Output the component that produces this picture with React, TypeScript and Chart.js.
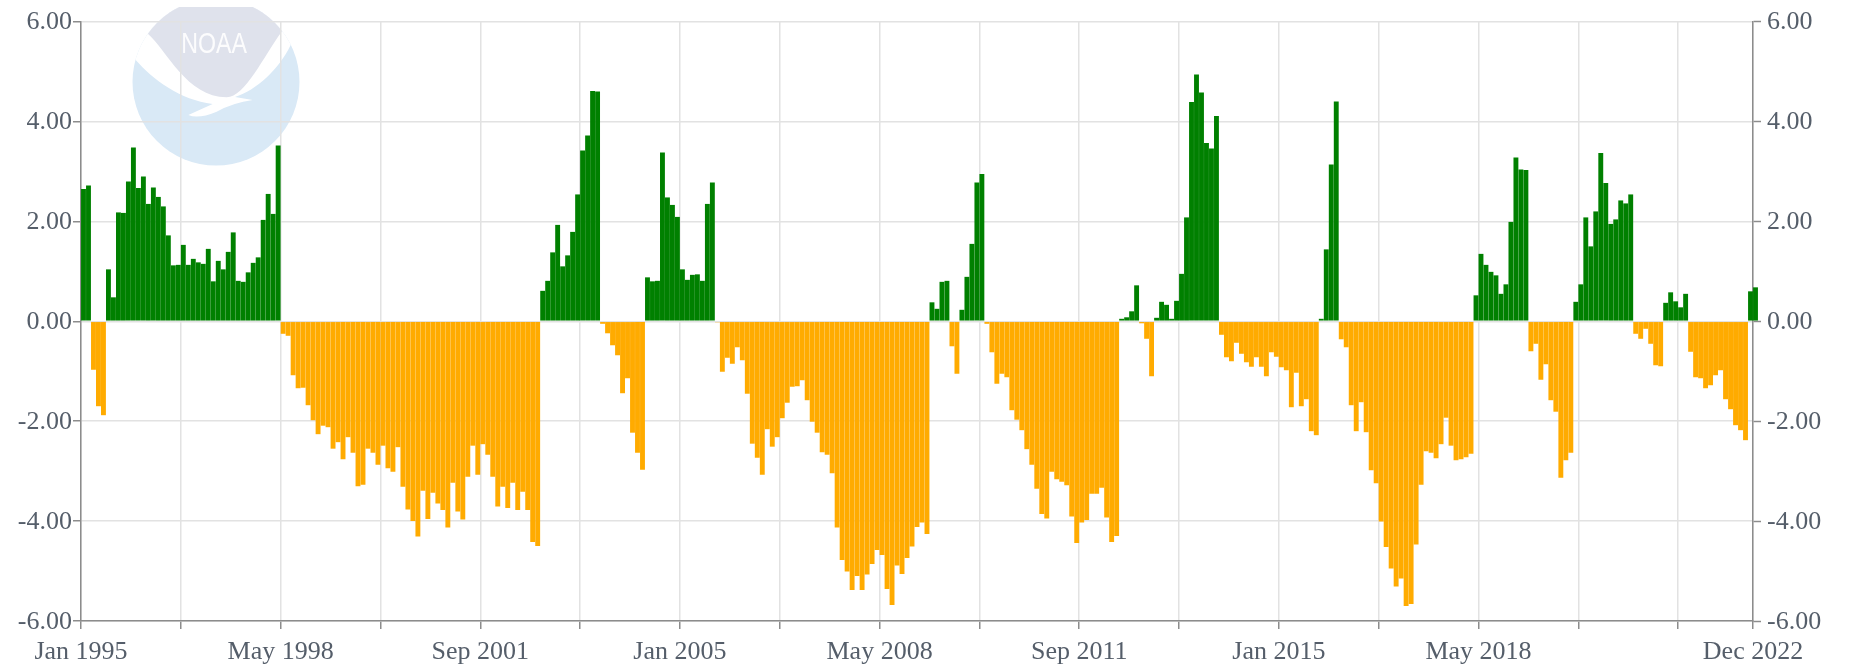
import React, { useEffect, useRef } from "react";
import { Chart, registerables } from "chart.js";

Chart.register(...registerables);

// Monthly values, Jan 1995 – Dec 2022
const monthlyValues: number[] = [
  2.65, 2.72, -0.97, -1.7, -1.88, 1.04, 0.48, 2.18, 2.17, 2.8, 3.48, 2.67,
  2.9, 2.35, 2.68, 2.49, 2.3, 1.72, 1.12, 1.13, 1.53, 1.13, 1.25, 1.18,
  1.15, 1.45, 0.8, 1.21, 1.04, 1.39, 1.78, 0.81, 0.79, 0.98, 1.17, 1.28,
  2.03, 2.55, 2.15, 3.52, -0.25, -0.29, -1.08, -1.34, -1.33, -1.68, -1.98, -2.26,
  -2.09, -2.12, -2.55, -2.42, -2.76, -2.32, -2.63, -3.3, -3.27, -2.55, -2.63, -2.87,
  -2.49, -2.94, -3.01, -2.52, -3.31, -3.77, -4.0, -4.31, -3.39, -3.96, -3.43, -3.65,
  -3.78, -4.13, -3.23, -3.81, -3.97, -3.11, -2.49, -3.07, -2.46, -2.67, -3.11, -3.71,
  -3.31, -3.74, -3.23, -3.78, -3.41, -3.78, -4.42, -4.5, 0.61, 0.81, 1.38, 1.93,
  1.1, 1.32, 1.79, 2.54, 3.42, 3.72, 4.61, 4.6, -0.05, -0.24, -0.48, -0.68,
  -1.44, -1.14, -2.23, -2.63, -2.97, 0.88, 0.8, 0.81, 3.38, 2.48, 2.33, 2.09,
  1.04, 0.83, 0.93, 0.94, 0.81, 2.35, 2.78, -0.02, -1.01, -0.73, -0.85, -0.52,
  -0.78, -1.45, -2.45, -2.73, -3.07, -2.16, -2.51, -2.32, -1.94, -1.63, -1.31, -1.3,
  -1.18, -1.58, -2.01, -2.23, -2.62, -2.67, -3.04, -4.13, -4.78, -5.01, -5.38, -5.1,
  -5.38, -5.07, -4.86, -4.58, -4.68, -5.36, -5.68, -4.89, -5.06, -4.74, -4.51, -4.12,
  -4.03, -4.26, 0.38, 0.25, 0.79, 0.81, -0.5, -1.05, 0.23, 0.89, 1.55, 2.78,
  2.95, -0.05, -0.62, -1.25, -1.05, -1.12, -1.78, -1.97, -2.18, -2.56, -2.87, -3.35,
  -3.86, -3.95, -3.01, -3.16, -3.21, -3.28, -3.91, -4.44, -4.03, -3.98, -3.45, -3.45,
  -3.33, -3.93, -4.42, -4.3, 0.05, 0.08, 0.2, 0.72, -0.04, -0.35, -1.1, 0.07,
  0.39, 0.33, 0.05, 0.41, 0.95, 2.08, 4.39, 4.94, 4.58, 3.57, 3.46, 4.11,
  -0.27, -0.72, -0.8, -0.43, -0.65, -0.82, -0.91, -0.72, -0.91, -1.1, -0.62, -0.71,
  -0.92, -0.98, -1.72, -1.03, -1.7, -1.56, -2.2, -2.28, 0.05, 1.44, 3.14, 4.4,
  -0.36, -0.52, -1.68, -2.2, -1.62, -2.22, -2.98, -3.24, -4.01, -4.52, -4.95, -5.31,
  -5.15, -5.7, -5.66, -4.47, -3.27, -2.6, -2.63, -2.74, -2.46, -1.93, -2.49, -2.78,
  -2.76, -2.72, -2.65, 0.52, 1.35, 1.13, 0.99, 0.92, 0.55, 0.74, 1.99, 3.28,
  3.04, 3.03, -0.6, -0.45, -1.17, -0.86, -1.58, -1.81, -3.13, -2.78, -2.63, 0.39,
  0.74, 2.08, 1.5, 2.2, 3.37, 2.77, 1.95, 2.04, 2.42, 2.36, 2.54, -0.25,
  -0.35, -0.15, -0.45, -0.88, -0.9, 0.37, 0.58, 0.4, 0.28, 0.55, -0.61, -1.12,
  -1.14, -1.34, -1.28, -1.08, -0.98, -1.56, -1.76, -2.08, -2.18, -2.38, 0.6, 0.68,
];

const tickMonths: number[] = [0, 20, 40, 60, 80, 100, 120, 140, 160, 180, 200, 220, 240, 260, 280, 300, 320, 335];
const tickLabels: string[] = ["Jan 1995", "", "May 1998", "", "Sep 2001", "", "Jan 2005", "", "May 2008", "", "Sep 2011", "", "Jan 2015", "", "May 2018", "", "", "Dec 2022"];
const yTicks: number[] = [-6, -4, -2, 0, 2, 4, 6];

const POSITIVE = "#008000";
const NEGATIVE = "#ffab00";
const TEXT = "#555e6a";
const AXIS = "#8c8c8c";
const GRID = "#e2e2e2";
const FONT = { family: '"Liberation Serif", serif', size: 26 };

const noaaLogo = {
  id: "noaaLogo",
  beforeDraw(chart: Chart) {
    const ctx = chart.ctx;
    const px = (z: number) => 120 + z / 3;
    const py = (z: number) => z / 3;
    ctx.save();
    ctx.beginPath();
    ctx.rect(0, 7, 400, 200);
    ctx.clip();
    ctx.beginPath();
    ctx.arc(216, 82, 83.5, 0, Math.PI * 2);
    ctx.fillStyle = "#d9e9f6";
    ctx.fill();
    ctx.clip();
    // white swoosh
    ctx.beginPath();
    ctx.moveTo(px(45), py(178));
    ctx.bezierCurveTo(px(100), py(240), px(180), py(300), px(278), py(312));
    ctx.lineTo(px(205), py(345));
    ctx.quadraticCurveTo(px(235), py(358), px(290), py(335));
    ctx.quadraticCurveTo(px(340), py(308), px(398), py(300));
    ctx.lineTo(px(345), py(291));
    ctx.bezierCurveTo(px(410), py(270), px(475), py(210), px(512), py(135));
    ctx.lineTo(px(600), py(0));
    ctx.lineTo(px(0), py(0));
    ctx.closePath();
    ctx.fillStyle = "#ffffff";
    ctx.fill();
    // grey upper part
    ctx.beginPath();
    ctx.moveTo(px(82), py(100));
    ctx.bezierCurveTo(px(140), py(150), px(200), py(292), px(320), py(292));
    ctx.bezierCurveTo(px(375), py(290), px(430), py(170), px(485), py(95));
    ctx.lineTo(px(485), py(0));
    ctx.lineTo(px(82), py(0));
    ctx.closePath();
    ctx.fillStyle = "#dfe2ec";
    ctx.fill();
    // lettering
    ctx.save();
    ctx.translate(214, 53);
    ctx.scale(0.8, 1);
    ctx.font = '29px "Liberation Sans", sans-serif';
    ctx.textAlign = "center";
    ctx.textBaseline = "alphabetic";
    ctx.fillStyle = "rgba(255,255,255,0.9)";
    ctx.fillText("NOAA", 0, 0);
    ctx.restore();
    ctx.restore();
  },
};

export default function App() {
  const ref = useRef<HTMLCanvasElement>(null);

  useEffect(() => {
    const chart = new Chart(ref.current!, {
      type: "bar",
      data: {
        datasets: [
          {
            data: monthlyValues.map((v, i) => ({ x: i + 0.5, y: v })),
            backgroundColor: monthlyValues.map((v) => (v >= 0 ? POSITIVE : NEGATIVE)),
            barPercentage: 0.98,
            categoryPercentage: 1,
            borderWidth: 0,
            clip: false,
            yAxisID: "y",
          } as any,
        ],
      },
      plugins: [noaaLogo],
      options: {
        responsive: false,
        animation: false,
        layout: { padding: { top: 19, left: 0, right: 0, bottom: 0 } },
        plugins: { legend: { display: false }, tooltip: { enabled: false }, title: { display: false } },
        scales: {
          x: {
            type: "linear",
            offset: false,
            min: 0,
            max: 335,
            afterBuildTicks(scale: any) {
              scale.ticks = tickMonths.map((value) => ({ value }));
            },
            afterFit(scale: any) {
              scale.height = 46;
            },
            ticks: {
              autoSkip: false,
              maxRotation: 0,
              minRotation: 0,
              padding: 8,
              color: TEXT,
              font: FONT,
              callback: (value: any) => tickLabels[tickMonths.indexOf(Number(value))] ?? "",
            },
            grid: { offset: false, color: GRID, lineWidth: 1.5, tickColor: AXIS, tickLength: 8, tickWidth: 1.5 },
            border: { color: AXIS, width: 1.5 },
          },
          y: {
            position: "left",
            min: -6,
            max: 6,
            afterBuildTicks(scale: any) {
              scale.ticks = yTicks.map((value) => ({ value }));
            },
            afterFit(scale: any) {
              scale.width = 81;
            },
            ticks: { padding: 1, labelOffset: 1, color: TEXT, font: FONT, callback: (v: any) => Number(v).toFixed(2) },
            grid: { color: GRID, lineWidth: 1.5, tickColor: AXIS, tickLength: 8, tickWidth: 1.5 },
            border: { color: AXIS, width: 1.5 },
          },
          y2: {
            position: "right",
            min: -6,
            max: 6,
            afterBuildTicks(scale: any) {
              scale.ticks = yTicks.map((value) => ({ value }));
            },
            afterFit(scale: any) {
              scale.width = 97;
            },
            ticks: { padding: 6, labelOffset: 1, color: TEXT, font: FONT, callback: (v: any) => Number(v).toFixed(2) },
            grid: { drawOnChartArea: false, tickColor: AXIS, tickLength: 8, tickWidth: 1.5 },
            border: { color: AXIS, width: 1.5 },
          },
        },
      } as any,
    });
    return () => chart.destroy();
  }, []);

  return (
    <div style={{ position: "fixed", left: 0, top: 0, width: 1850, height: 667, background: "#fff" }}>
      <canvas ref={ref} width={1850} height={667} style={{ display: "block", filter: "blur(0.5px)" }} />
    </div>
  );
}
